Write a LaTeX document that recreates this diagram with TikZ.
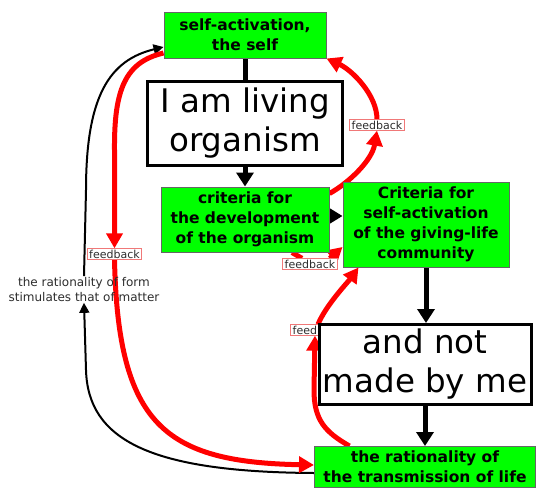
\documentclass[tikz,border=0pt]{standalone}
\usepackage{fontspec}
\setmainfont{DejaVu Sans}
\usetikzlibrary{arrows.meta,backgrounds}
\definecolor{boxgreen}{RGB}{0,255,0}
\definecolor{fbred}{RGB}{255,0,0}
\definecolor{fbframe}{RGB}{240,120,120}
\definecolor{softtext}{RGB}{45,45,45}

\begin{document}
\begin{tikzpicture}[x=1pt,y=-1pt,
  greenbox/.style={draw=black!60, line width=1pt, fill=boxgreen, align=center,
    font=\fontsize{15.5}{20}\selectfont\bfseries, inner sep=0pt},
  whitebox/.style={draw=black, line width=3pt, fill=white, align=center,
    font=\fontsize{32.5}{39}\selectfont, inner sep=0pt},
  fbtag/.style={draw=fbframe, line width=0.8pt, fill=white, text=softtext,
    font=\fontsize{11}{13}\selectfont, inner xsep=2pt, inner ysep=1pt},
  blkarrow/.style={draw=black, line width=5pt, -{Triangle[width=17pt,length=14pt]}},
  redarrow/.style={draw=fbred, line width=5pt, -{Triangle[width=16pt,length=15pt]}},
  redline/.style={draw=fbred, line width=5pt},
  thinarrow/.style={draw=black, line width=2pt, -{Triangle[width=10pt,length=10pt]}}]

\useasboundingbox (0,0) rectangle (536,488);

% boxes
\node[greenbox, minimum width=162pt, minimum height=46pt] (self) at (245,35)
  {self-activation,\\the self};
\node[whitebox, minimum width=195pt, minimum height=84pt] (living) at (245,123)
  {I am living\\organism};
\node[greenbox, minimum width=168pt, minimum height=65pt] (crit) at (245,219.5)
  {criteria for\\the development\\of the organism};
\node[greenbox, minimum width=166pt, minimum height=85pt] (comm) at (426,224.5)
  {Criteria for\\self-activation\\of the giving-life\\community};
\node[fbtag] (fbd) at (318,330) {feedback};
\node[whitebox, minimum width=212pt, minimum height=80pt] (made) at (425,364.5)
  {and not\\made by me};
\node[greenbox, minimum width=221pt, minimum height=41pt] (ratio) at (425,467)
  {the rationality of\\the transmission of life};

% feedback tags and side note
\node[fbtag] (fba) at (377,125) {feedback};
\node[fbtag] (fbb) at (114.5,254) {feedback};
\node[fbtag] (fbc) at (310,264) {feedback};
\node[align=center, text=softtext, font=\fontsize{12}{15}\selectfont, inner sep=1pt]
  (form) at (84,289.5) {the rationality of form\\stimulates that of matter};

\begin{scope}[on background layer]
  % main chain
  \draw[draw=black, line width=5pt] (self) -- (living);
  \draw[blkarrow] (living) -- (crit);
  \draw[draw=black, line width=3pt, -{Triangle[width=15pt,length=13pt]}]
    ([yshift=3.5pt]crit.east) -- ([yshift=3.5pt]crit.east -| comm.west);
  \draw[blkarrow] (comm.south) -- (comm.south |- made.north);
  \draw[blkarrow] (made.south) -- (made.south |- ratio.north);

  % thin loop on the left
  \draw[thinarrow] ([yshift=-6pt]ratio.west)
    .. controls (150,472) and (88,440) .. (86,370) -- (form.south);
  \draw[thinarrow] (form.north) -- (86,190)
    .. controls (86,95) and (110,60) .. ([yshift=-12pt]self.west);

  % feedback loops
  \draw[redarrow] ([yshift=-18pt]self.west)
    .. controls (125,62) and (114,90) .. (114.5,150) -- (fbb.north);
  \draw[redarrow] (fbb.south)
    .. controls (118,425) and (165,462) .. ([yshift=2pt]ratio.west);

  \draw[redarrow] ([yshift=-7pt]crit.north east)
    .. controls (350,182) and (372,160) .. (fba.south);
  \draw[redarrow] (fba.north)
    .. controls (377,95) and (352,70) .. (self.south east);

  \draw[redline] ([xshift=47pt]crit.south) -- ([xshift=-8pt]fbc.north);
  \draw[redarrow] ([xshift=-8pt]fbc.north east) -- ([yshift=-22.5pt]comm.west);

  \draw[redarrow] ([xshift=35.5pt]ratio.north west)
    .. controls (325,432) and (314,420) .. (314,390) -- ([xshift=-3pt]fbd.south);
  \draw[redarrow] (fbd.north)
    .. controls (326,305) and (348,282) .. ([xshift=16pt]comm.south west);
\end{scope}
\end{tikzpicture}
\end{document}
